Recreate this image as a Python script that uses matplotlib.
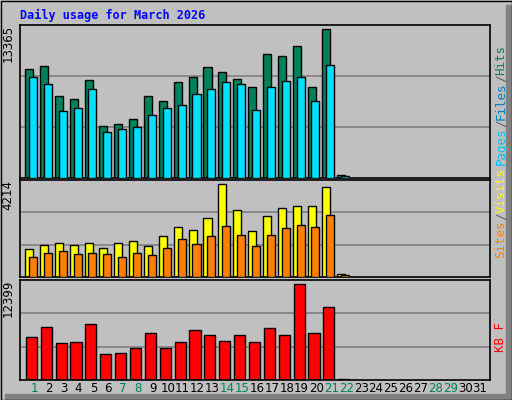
import matplotlib
matplotlib.use("Agg")
import matplotlib.pyplot as plt
from matplotlib.patches import Rectangle

days = list(range(1, 32))
hits = [9521, 9784, 7163, 6901, 8561, 4542, 4717, 5154, 7163, 6726, 8386, 8823, 9696, 9260, 8648, 7949, 10832, 10657, 11531, 7949, 13016, 262]
files = [8823, 8211, 5853, 6115, 7775, 4018, 4280, 4455, 5503, 6115, 6377, 7338, 7775, 8386, 8211, 5940, 7949, 8473, 8823, 6726, 9871, 175]
visits = [1216, 1390, 1477, 1390, 1477, 1260, 1477, 1564, 1347, 1781, 2172, 2042, 2563, 4040, 2911, 1998, 2650, 2998, 3085, 3085, 3910, 130]
sites = [869, 1043, 1130, 999, 1043, 999, 869, 1043, 956, 1260, 1651, 1434, 1781, 2216, 1825, 1347, 1825, 2129, 2259, 2172, 2694, 87]
kbytes = [5332, 6571, 4588, 4712, 6943, 3224, 3348, 3968, 5828, 3968, 4712, 6200, 5580, 4836, 5580, 4712, 6447, 5580, 11903, 5828, 9051, 100]
weekend = [1, 7, 8, 14, 15, 21, 22, 28, 29]
max_top, max_mid, max_bot = 13365, 4214, 12399

BG = "#C0C0C0"
W, H = 512, 400
fig = plt.figure(figsize=(5.12, 4.0), dpi=100)
fig.patch.set_facecolor(BG)

def fr(x, y, w, h):
    return (x / W, 1 - (y + h) / H, w / W, h / H)

fig.patches.append(Rectangle((5 / W, 0), 1 - 5 / W, 6 / H, transform=fig.transFigure, color="#808080", zorder=0))
fig.patches.append(Rectangle((1 - 6 / W, 0), 6 / W, 1 - 5 / H, transform=fig.transFigure, color="#808080", zorder=0))
fig.patches.append(Rectangle((0.5 / W, 0.5 / H), 1 - 1 / W, 1 - 1 / H, transform=fig.transFigure, fill=False, ec="black", lw=1, zorder=1))

fig.text(20 / W, 1 - 15 / H, "Daily usage for March 2026", color="#0000FF", family="DejaVu Sans Mono",
         weight="bold", fontsize=8.5, va="center", ha="left")

xlim = (0.06, 31.67)
x = days[:len(hits)]

def setup(ax, ymax, label):
    ax.set_facecolor(BG)
    ax.set_xlim(*xlim)
    ax.set_ylim(0, ymax)
    ax.set_xticks([]); ax.set_yticks([])
    for y in (ymax / 3, 2 * ymax / 3):
        ax.axhline(y, color="#808080", lw=1.2, zorder=0)
    for s in ax.spines.values():
        s.set_color("black"); s.set_linewidth(1.2)
    ax.text(-0.012, 1.0, label, transform=ax.transAxes, rotation=90, ha="right", va="top",
            fontsize=8.5, color="black")

ax1 = fig.add_axes(fr(20, 25, 470, 153))
setup(ax1, max_top, "13365")
ax1.bar([d - 0.33 for d in x], hits, width=0.54, color="#00805C", ec="black", lw=1, zorder=2)
ax1.bar([d - 0.07 for d in x], files, width=0.54, color="#00E0FF", ec="black", lw=1, zorder=3)

ax2 = fig.add_axes(fr(20, 180, 470, 97))
setup(ax2, max_mid, "4214")
ax2.bar([d - 0.33 for d in x], visits, width=0.54, color="#FFFF00", ec="black", lw=1, zorder=2)
ax2.bar([d - 0.07 for d in x], sites, width=0.54, color="#FF8000", ec="black", lw=1, zorder=3)

ax3 = fig.add_axes(fr(20, 280, 470, 100))
setup(ax3, max_bot, "12399")
ax3.bar([d - 0.17 for d in x], kbytes, width=0.75, color="#FF0000", ec="black", lw=1, zorder=2)

for d in days:
    xp = 20 + (d - xlim[0]) / (xlim[1] - xlim[0]) * 470
    fig.text(xp / W, 1 - 389 / H, str(d), ha="center", va="center", fontsize=8.5,
             color="#00805C" if d in weekend else "black")

FS = 9
STEP = 0.602 * FS * 100 / 72
def stack(parts, ybottom):
    y = ybottom
    for txt, col in parts:
        fig.text(501 / W, 1 - y / H, txt, rotation=90, ha="center", va="bottom",
                 fontsize=FS, family="DejaVu Sans Mono", color=col)
        y -= STEP * len(txt)
stack([("Pages", "#00C0FF"), ("/", "#606060"), ("Files", "#0080C0"), ("/", "#606060"), ("Hits", "#00805C")], 165)
stack([("Sites", "#FF8000"), ("/", "#606060"), ("Visits", "#FFFF00")], 258)
stack([("KB F", "#FF0000")], 352)

fig.savefig("out.png", dpi=100, facecolor=BG)
